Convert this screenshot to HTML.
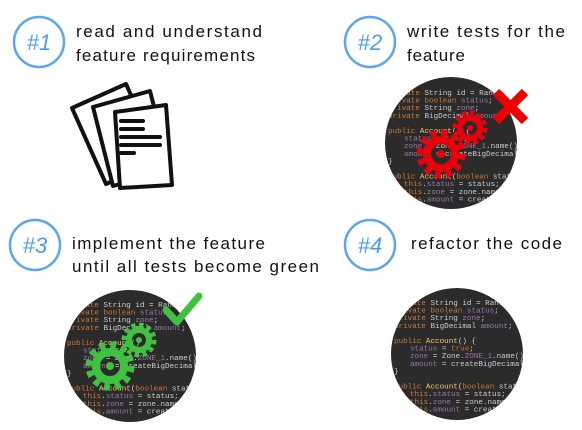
<!DOCTYPE html>
<html><head><meta charset="utf-8"><style>
html,body{margin:0;padding:0;background:#fff;}
svg{display:block;}
.t{font-family:"Liberation Sans",sans-serif;font-size:17px;fill:#111;}
.n{font-family:"Liberation Sans",sans-serif;font-size:22px;fill:#4a9ef0;font-style:italic;}
.c{font-family:"Liberation Mono",monospace;font-size:7.6px;}
</style></head><body>
<svg width="582" height="430" viewBox="0 0 582 430">
<defs>
<g id="code">
<text class="c" x="0" y="0" fill="#ccc"><tspan fill="#cc7832">private</tspan> String id = RandomS</text>
<text class="c" x="0" y="7.6" fill="#ccc"><tspan fill="#cc7832">private boolean</tspan> <tspan fill="#9876aa">status</tspan>;</text>
<text class="c" x="0" y="15.2" fill="#ccc"><tspan fill="#cc7832">private</tspan> String <tspan fill="#9876aa">zone</tspan>;</text>
<text class="c" x="0" y="22.8" fill="#ccc"><tspan fill="#cc7832">private</tspan> BigDecimal <tspan fill="#9876aa">amount</tspan>;</text>
<text class="c" x="0" y="38" fill="#ccc"><tspan fill="#cc7832">public</tspan> <tspan fill="#ffc66d">Account</tspan>() {</text>
<text class="c" x="16" y="45.6" fill="#9876aa">status <tspan fill="#ccc">=</tspan> <tspan fill="#cc7832">true</tspan><tspan fill="#ccc">;</tspan></text>
<text class="c" x="16" y="53.2" fill="#9876aa">zone <tspan fill="#ccc">= Zone.</tspan>ZONE_1<tspan fill="#ccc">.name();</tspan></text>
<text class="c" x="16" y="60.8" fill="#9876aa">amount <tspan fill="#ccc">= createBigDecimal(</tspan><tspan fill="#6897bb">0.00</tspan></text>
<text class="c" x="0" y="68.4" fill="#ccc">}</text>
<text class="c" x="0" y="83.6" fill="#ccc"><tspan fill="#cc7832">public</tspan> <tspan fill="#ffc66d">Account</tspan>(<tspan fill="#cc7832">boolean</tspan> status, Zo</text>
<text class="c" x="16" y="91.2" fill="#cc7832">this<tspan fill="#ccc">.</tspan><tspan fill="#9876aa">status</tspan><tspan fill="#ccc"> = status;</tspan></text>
<text class="c" x="16" y="98.8" fill="#cc7832">this<tspan fill="#ccc">.</tspan><tspan fill="#9876aa">zone</tspan><tspan fill="#ccc"> = zone.name();</tspan></text>
<text class="c" x="16" y="106.4" fill="#cc7832">this<tspan fill="#ccc">.</tspan><tspan fill="#9876aa">amount</tspan><tspan fill="#ccc"> = createBigD</tspan></text>
</g>
<clipPath id="cp2"><circle cx="451" cy="143" r="66"/></clipPath>
<clipPath id="cp3"><circle cx="130" cy="356" r="66"/></clipPath>
<clipPath id="cp4"><circle cx="457" cy="354" r="66"/></clipPath>
</defs>

<g>
<circle cx="39" cy="42" r="25" fill="none" stroke="#5aa6f0" stroke-width="2.5"/>
<text class="n" x="39" y="50" text-anchor="middle">#1</text>
<text class="t" x="76" y="37" textLength="186">read and understand</text>
<text class="t" x="76" y="61" textLength="179">feature requirements</text>
<g stroke="#111" stroke-width="4" fill="#fff" stroke-linejoin="round">
<path d="M72 108 L126 84 L160 160 L106 184 Z"/>
<path d="M93 107 L150 91 L170 170 L113 186 Z"/>
<path d="M115 112 L166 105 L172 185 L120 188 Z"/>
<g stroke-width="4" stroke-linecap="round">
<line x1="121" y1="121" x2="143" y2="121"/>
<line x1="121" y1="129" x2="143" y2="129"/>
<line x1="121" y1="137" x2="160" y2="137"/>
<line x1="121" y1="145" x2="160" y2="145"/>
<line x1="121" y1="153" x2="134" y2="153"/>
</g></g>
</g>

<g>
<circle cx="370" cy="42" r="25" fill="none" stroke="#5aa6f0" stroke-width="2.5"/>
<text class="n" x="370" y="50" text-anchor="middle">#2</text>
<text class="t" x="407" y="37" textLength="158">write tests for the</text>
<text class="t" x="407" y="61" textLength="58">feature</text>
<circle cx="451" cy="143" r="66" fill="#2b2b2b"/>
<g clip-path="url(#cp2)"><use href="#code" x="388" y="95"/></g>
<g fill="none" stroke="#e8000b">
<circle cx="470" cy="128" r="10" stroke-width="6"/><circle cx="470" cy="128" r="15" stroke-width="5" stroke-dasharray="4.3 3.55"/>
<circle cx="470" cy="128" r="3" fill="#e8000b" stroke="none"/>
<circle cx="441" cy="154" r="14" stroke-width="8"/><circle cx="441" cy="154" r="21" stroke-width="7" stroke-dasharray="6 5"/>
<circle cx="441" cy="154" r="4" fill="#e8000b" stroke="none"/>
</g>
<g stroke="#ee0000" stroke-width="9" stroke-linecap="butt">
<line x1="496" y1="92" x2="525" y2="121"/><line x1="525" y1="92" x2="496" y2="121"/>
</g>
</g>

<g>
<circle cx="35" cy="245" r="25" fill="none" stroke="#5aa6f0" stroke-width="2.5"/>
<text class="n" x="35" y="253" text-anchor="middle">#3</text>
<text class="t" x="72" y="249" textLength="193">implement the feature</text>
<text class="t" x="72" y="272" textLength="247">until all tests become green</text>
<circle cx="130" cy="356" r="66" fill="#2b2b2b"/>
<g clip-path="url(#cp3)"><use href="#code" x="67" y="307"/></g>
<g fill="none" stroke="#3fc23f">
<circle cx="139" cy="340" r="10" stroke-width="6"/><circle cx="139" cy="340" r="15" stroke-width="5" stroke-dasharray="4.3 3.55"/>
<circle cx="139" cy="340" r="3" fill="#3fc23f" stroke="none"/>
<circle cx="110" cy="366" r="14" stroke-width="8"/><circle cx="110" cy="366" r="21" stroke-width="7" stroke-dasharray="6 5"/>
<circle cx="110" cy="366" r="4" fill="#3fc23f" stroke="none"/>
</g>
<path d="M166 310 L177 322 L199 296" fill="none" stroke="#3fc23f" stroke-width="7" stroke-linecap="round" stroke-linejoin="round"/>
</g>

<g>
<circle cx="370" cy="245" r="25" fill="none" stroke="#5aa6f0" stroke-width="2.5"/>
<text class="n" x="370" y="253" text-anchor="middle">#4</text>
<text class="t" x="411" y="249" textLength="151">refactor the code</text>
<circle cx="457" cy="354" r="66" fill="#2b2b2b"/>
<g clip-path="url(#cp4)"><use href="#code" x="394" y="305"/></g>
</g>
</svg>
</body></html>
